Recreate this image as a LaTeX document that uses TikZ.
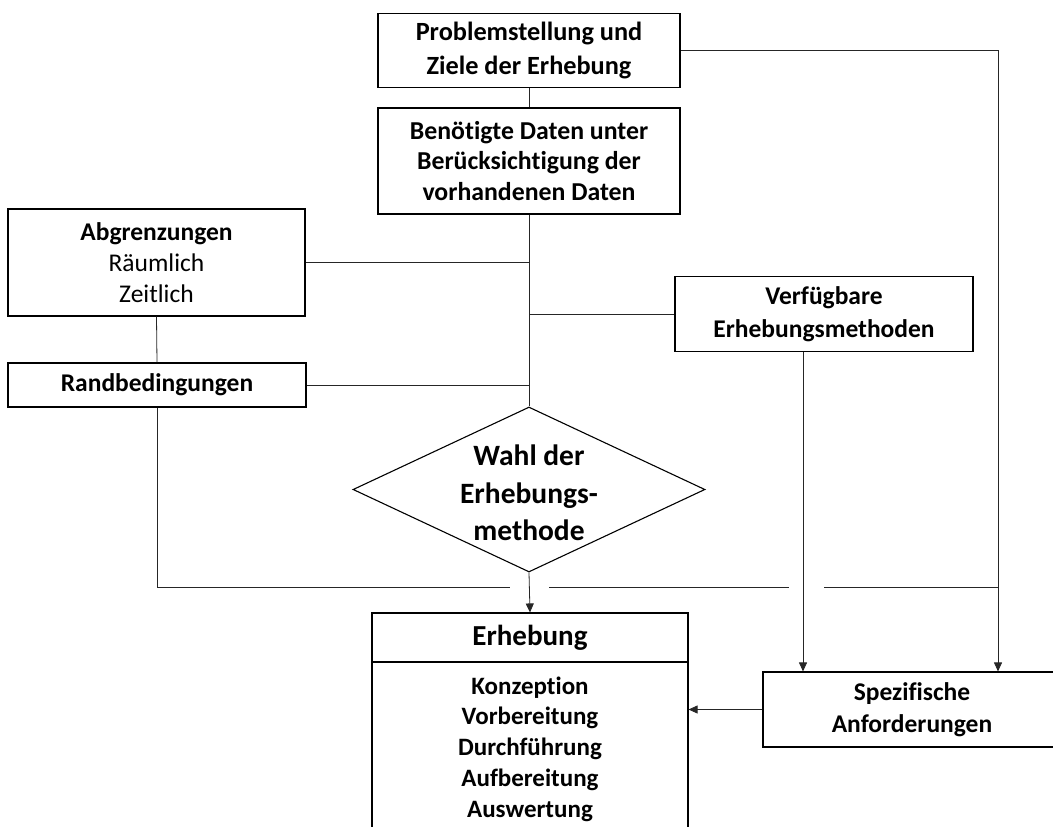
\documentclass[tikz,border=0pt]{standalone}
\usepackage{fontspec}
\setmainfont{Carlito}[Ligatures=NoCommon]
\usetikzlibrary{shapes.geometric,arrows.meta,calc}
\begin{document}
\begin{tikzpicture}[x=1pt,y=-1pt,
  box/.style={draw=black,line width=1.1pt,rectangle,inner sep=0pt,align=center,
    font=\fontsize{25.5}{31}\selectfont},
  conn/.style={draw=black!85,line width=0.8pt},
  arr/.style={conn,-{Triangle[length=9pt,width=8pt]}},
  txt/.style={inner sep=0pt,align=center}]
\useasboundingbox (0,0) rectangle (1053,827);

% nodes
\node[box,minimum width=302pt,minimum height=74pt,font=\fontsize{26.3}{34}\selectfont\bfseries]
  (prob) at (529,50.5) {Problemstellung und\\Ziele der Erhebung};
\node[box,minimum width=302pt,minimum height=106pt,font=\fontsize{25.8}{30.5}\selectfont\bfseries]
  (daten) at (529,161) {Benötigte Daten unter\\Berücksichtigung der\\vorhandenen Daten};
\node[box,minimum width=297pt,minimum height=107pt]
  (abg) at (156.5,262.5) {\textbf{Abgrenzungen}\\Räumlich\\Zeitlich};
\node[box,minimum width=298pt,minimum height=44pt,font=\fontsize{25.5}{31}\selectfont\bfseries]
  (rand) at (157,385) {Randbedingungen};
\node[box,minimum width=298pt,minimum height=75pt,font=\fontsize{25.5}{33}\selectfont\bfseries]
  (verf) at (824,314) {Verfügbare\\Erhebungsmethoden};
\node[diamond,draw=black,line width=1.1pt,minimum width=352pt,minimum height=165pt,inner sep=0pt]
  (dia) at (529,489.5) {};
\node[txt,font=\fontsize{29.5}{37.5}\selectfont\bfseries] (diatext) at (529,493) {Wahl der\\Erhebungs-\\methode};
\node[box,minimum width=316pt,minimum height=49pt,font=\fontsize{29}{35}\selectfont\bfseries]
  (erh) at (530,637.5) {Erhebung};
\node[box,minimum width=316pt,minimum height=170pt] (erhbody) at (530,747) {};
\node[txt,font=\fontsize{25}{30.8}\selectfont\bfseries] (erhtext) at (530,749)
  {Konzeption\\Vorbereitung\\Durchführung\\Aufbereitung\\Auswertung};
\node[box,minimum width=298pt,minimum height=75pt,font=\fontsize{25.5}{32.5}\selectfont\bfseries]
  (spez) at (912,709.5) {Spezifische\\Anforderungen};

% helper coordinates
\coordinate (mainx) at (daten.south);
\coordinate (rightx) at ([xshift=86pt]spez.north);
\coordinate (verfx) at ([xshift=-21pt]verf.south);
\coordinate (g1) at (510,587);
\coordinate (g2) at (549,587);
\coordinate (g3) at (789,587);
\coordinate (g4) at (824,587);

% connectors
\draw[conn] (prob.south) -- (daten.north);
\draw[conn] (daten.south) -- (dia.north);
\draw[conn] (abg.east) -- (abg.east -| mainx);
\draw[conn] (abg.south) -- (rand.north);
\draw[conn] (rand.east) -- (rand.east -| mainx);
\draw[conn] (verf.west) -- (verf.west -| mainx);
\draw[arr] (dia.south) -- (erh.north);
\draw[arr] (prob.east) -| (rightx);
\draw[arr] (verfx) -- ([xshift=-109pt]spez.north);
\draw[arr] (spez.west) -- (spez.west -| erhbody.east);
\draw[conn] (rand.south) |- (g1);
\draw[conn] (g2) -- (g3);
\draw[conn] (g4) -- (g4 -| rightx);
\end{tikzpicture}
\end{document}
